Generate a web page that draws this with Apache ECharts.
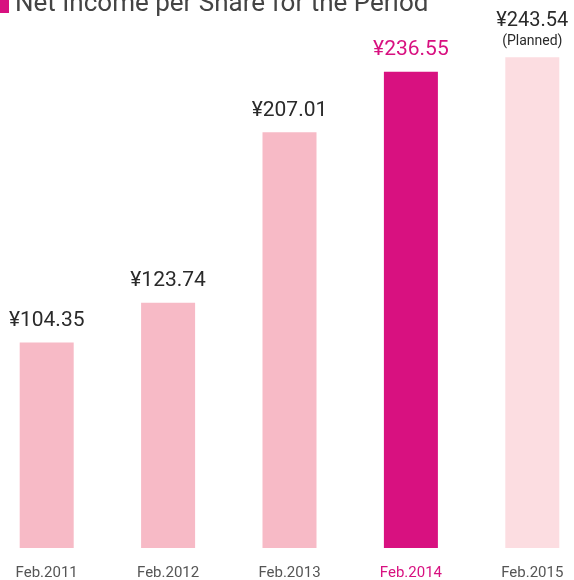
<!DOCTYPE html>
<html>
<head>
<meta charset="utf-8">
<script src="https://cdn.jsdelivr.net/npm/echarts@6/dist/echarts.min.js"></script>
<style>
  html, body { margin: 0; padding: 0; background: #fff; }
  #chart { width: 574px; height: 580px; }
</style>
</head>
<body>
<div id="chart"></div>
<script>
// 期ごとの1株当たり当期純利益
var categories = ['Feb.2011', 'Feb.2012', 'Feb.2013', 'Feb.2014', 'Feb.2015']
var values = [104.35, 123.74, 207.01, 236.55, 243.54]
var highlightIndex = 3
var plannedIndex = 4
var titleText = 'Net Income per Share for the Period'

var pink = '#f7bac6'
var magenta = '#d81180'
var pale = '#fcdde1'

var mychart = echarts.init(document.getElementById('chart'))

var barData = values.map(function (v, i) {
  var color = pink
  if (i === highlightIndex) color = magenta
  if (i === plannedIndex) color = pale
  var item = { value: v, itemStyle: { color: color } }
  if (i === highlightIndex) {
    item.label = { color: magenta }
  }
  if (i === plannedIndex) {
    item.label = {
      formatter: '{a|¥' + v.toFixed(2) + '}\n{b|(Planned)}',
      distance: 7
    }
  }
  return item
})

var option = {
  animation: false,
  graphic: [
    {
      type: 'rect',
      left: 0,
      top: 0,
      shape: { width: 9, height: 13 },
      style: { fill: magenta }
    },
    {
      type: 'text',
      left: 15,
      top: -9,
      style: {
        text: titleText,
        fontFamily: 'Roboto',
        fontSize: 26,
        fill: '#444'
      }
    }
  ],
  grid: { left: -14, width: 607, top: 40, bottom: 32, outerBoundsMode: 'none' },
  xAxis: {
    type: 'category',
    data: categories,
    axisLine: { show: false },
    axisTick: { show: false },
    axisLabel: {
      margin: 18,
      fontFamily: 'Roboto',
      fontSize: 15,
      color: function (val, idx) {
        return idx === highlightIndex ? magenta : '#555'
      }
    }
  },
  yAxis: {
    type: 'value',
    min: 4,
    max: 252,
    show: false
  },
  series: [
    {
      type: 'bar',
      barWidth: 54,
      data: barData,
      label: {
        show: true,
        position: 'top',
        distance: 11,
        fontFamily: 'Roboto',
        fontSize: 21,
        color: '#2a2a2a',
        formatter: function (p) {
          return '¥' + p.value.toFixed(2)
        },
        rich: {
          a: { fontFamily: 'Roboto', fontSize: 20, color: '#2a2a2a', lineHeight: 22 },
          b: { fontFamily: 'Roboto', fontSize: 14, color: '#2a2a2a', lineHeight: 18 }
        }
      }
    }
  ]
}
mychart.setOption(option)
</script>
</body>
</html>
